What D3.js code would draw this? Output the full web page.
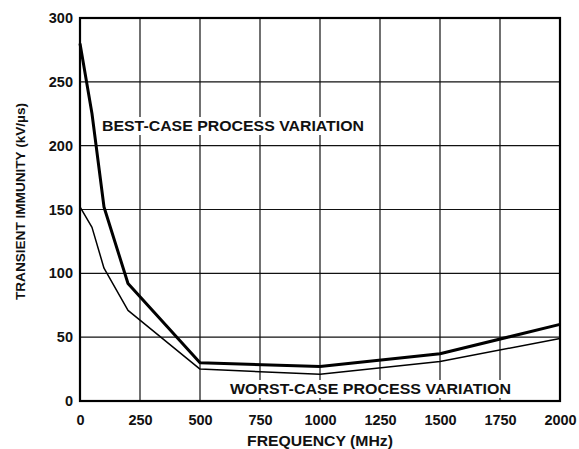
<!DOCTYPE html>
<html>
<head>
<meta charset="utf-8">
<script src="https://cdn.jsdelivr.net/npm/d3@7"></script>
<style>
  body { margin: 0; background: #fff; }
  text { font-family: "Liberation Sans", Arial, sans-serif; font-weight: bold; fill: #111; }
</style>
</head>
<body>
<div id="chart"></div>
<script>
// data
const xTicks = [0, 250, 500, 750, 1000, 1250, 1500, 1750, 2000];
const yTicks = [0, 50, 100, 150, 200, 250, 300];

const bestFreq = [0, 50, 100, 200, 500, 1000, 1500, 2000];
const bestVal  = [280, 225, 152, 92, 30, 27, 37, 60];

const worstFreq = [0, 50, 100, 200, 500, 1000, 1500, 2000];
const worstVal  = [152, 136, 104, 71, 25, 21, 31, 49];

const margin = {top: 18, right: 19, bottom: 48, left: 80};
const width = 579 - margin.left - margin.right;
const height = 449 - margin.top - margin.bottom;

const svg = d3.select("#chart").append("svg")
    .attr("width", 579)
    .attr("height", 449)
    .append("g")
    .attr("transform", "translate(" + margin.left + "," + margin.top + ")");

const x = d3.scaleLinear().domain([0, 2000]).range([0, width]);
const y = d3.scaleLinear().domain([0, 300]).range([height, 0]);

// grid
svg.append("g").selectAll("line.vgrid")
    .data(xTicks.slice(1, -1))
    .enter().append("line")
    .attr("x1", d => x(d)).attr("x2", d => x(d))
    .attr("y1", 0).attr("y2", height)
    .attr("stroke", "#111").attr("stroke-width", 1.2);

svg.append("g").selectAll("line.hgrid")
    .data(yTicks.slice(1, -1))
    .enter().append("line")
    .attr("x1", 0).attr("x2", width)
    .attr("y1", d => y(d)).attr("y2", d => y(d))
    .attr("stroke", "#111").attr("stroke-width", 1.2);

// lines
const line = d3.line()
    .x(d => x(d[0]))
    .y(d => y(d[1]));

svg.append("path")
    .datum(worstFreq.map((f, i) => [f, worstVal[i]]))
    .attr("fill", "none")
    .attr("stroke", "#000")
    .attr("stroke-width", 1.5)
    .attr("stroke-linejoin", "round")
    .attr("d", line);

svg.append("path")
    .datum(bestFreq.map((f, i) => [f, bestVal[i]]))
    .attr("fill", "none")
    .attr("stroke", "#000")
    .attr("stroke-width", 3)
    .attr("stroke-linejoin", "round")
    .attr("d", line);

// labels on white boxes
function boxLabel(txt, px, py, len) {
    const t = svg.append("text")
        .attr("x", px).attr("y", py)
        .attr("font-size", 15)
        .attr("textLength", len)
        .attr("lengthAdjust", "spacingAndGlyphs")
        .text(txt);
    const bb = t.node().getBBox();
    svg.insert("rect", "text")
        .attr("x", bb.x - 3).attr("y", bb.y)
        .attr("width", bb.width + 6).attr("height", bb.height + 1)
        .attr("fill", "#fff");
}
boxLabel("BEST-CASE PROCESS VARIATION", 22, 113, 262);
boxLabel("WORST-CASE PROCESS VARIATION", 150, 376, 281);

// frame
svg.append("rect")
    .attr("width", width).attr("height", height)
    .attr("fill", "none")
    .attr("stroke", "#000")
    .attr("stroke-width", 2.2);

// axes
const xAxis = d3.axisBottom(x).tickValues(xTicks).tickFormat(d3.format("d")).tickSize(0).tickPadding(14);
const yAxis = d3.axisLeft(y).tickValues(yTicks).tickFormat(d3.format("d")).tickSize(0).tickPadding(7);

const gx = svg.append("g")
    .attr("transform", "translate(0," + height + ")")
    .call(xAxis);
const gy = svg.append("g").call(yAxis);

[gx, gy].forEach(g => {
    g.select(".domain").remove();
    g.selectAll("text")
        .attr("font-size", 14.5)
        .attr("font-family", "'Liberation Sans', Arial, sans-serif")
        .attr("font-weight", "bold")
        .attr("fill", "#111");
});

svg.append("text")
    .attr("x", width / 2)
    .attr("y", height + 45)
    .attr("text-anchor", "middle")
    .attr("font-size", 14.5)
    .attr("textLength", 146)
    .attr("lengthAdjust", "spacingAndGlyphs")
    .text("FREQUENCY (MHz)");

svg.append("text")
    .attr("transform", "translate(-55," + (height / 2 - 8) + ") rotate(-90)")
    .attr("text-anchor", "middle")
    .attr("font-size", 13.5)
    .attr("textLength", 197)
    .attr("lengthAdjust", "spacingAndGlyphs")
    .text("TRANSIENT IMMUNITY (kV/µs)");
</script>
</body>
</html>
